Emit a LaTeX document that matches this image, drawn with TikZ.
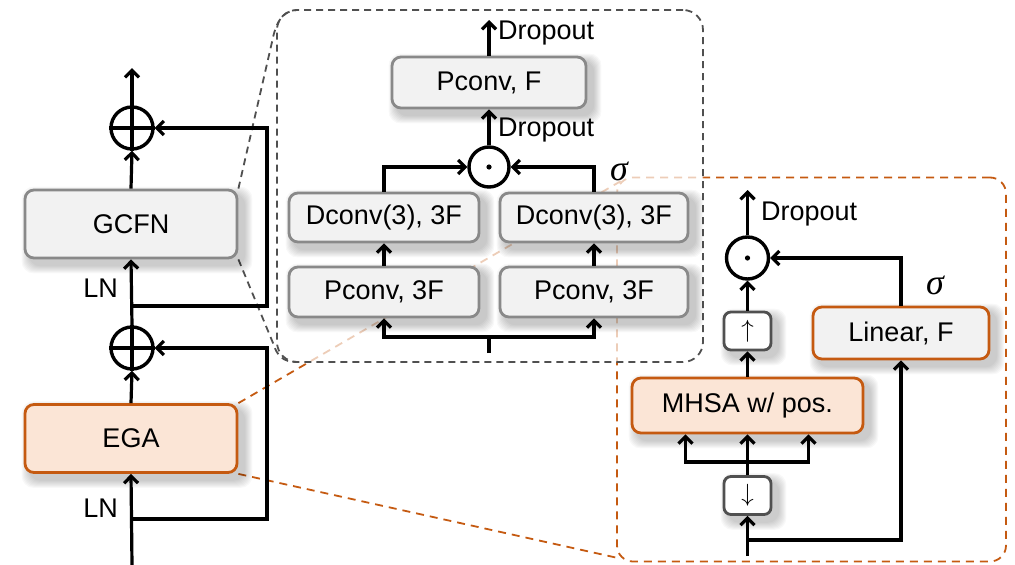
\documentclass[tikz,border=0pt]{standalone}
\usepackage{fontspec}
\setmainfont{Liberation Sans}
\newfontfamily\greekit{Liberation Serif}
\usetikzlibrary{arrows.meta,calc}
\definecolor{ora}{RGB}{197,90,17}
\definecolor{orafill}{RGB}{251,229,214}
\definecolor{gfill}{RGB}{242,242,242}
\definecolor{gline}{RGB}{137,137,137}
\definecolor{dline}{RGB}{80,80,80}
\pgfdeclarelayer{frames}
\pgfdeclarelayer{shade}
\pgfsetlayers{frames,shade,main}
% soft shadow below and to the right of a named box
\newcommand\boxshade[1]{%
  \begin{pgfonlayer}{shade}
    \foreach \i in {1,...,8}{%
      \fill[black,fill opacity=0.028,rounded corners=12pt]
        ($(#1.north west)+(6-\i,6-\i)$) rectangle ($(#1.south east)+(6+\i,6+\i)$);}
  \end{pgfonlayer}}
\begin{document}
\begin{tikzpicture}[x=1pt,y=-1pt,
  font=\fontsize{27}{32}\selectfont,
  wire/.style={line width=3.2pt,draw=black},
  arr/.style={wire,-{Straight Barb[length=7pt,width=14pt]}},
  gbox/.style={draw=gline,fill=gfill,line width=2.8pt,rounded corners=9pt,inner sep=0pt},
  obox/.style={draw=ora,fill=orafill,line width=2.8pt,rounded corners=9pt,inner sep=0pt},
  olbox/.style={draw=ora,fill=gfill,line width=2.8pt,rounded corners=9pt,inner sep=0pt},
  sbox/.style={draw=dline,fill=white,line width=2.8pt,rounded corners=7pt,inner sep=0pt,
    minimum width=47pt,minimum height=38pt,font=\fontsize{27}{30}\selectfont},
  op/.style={circle,draw=black,line width=3.4pt,minimum size=42pt,inner sep=0pt,fill=white},
  gdash/.style={draw=dline,line width=1.8pt,dash pattern=on 7pt off 5pt},
  odash/.style={draw=ora,line width=1.8pt,dash pattern=on 8pt off 6pt},
  lbl/.style={inner sep=0pt},
  sig/.style={inner sep=0pt,font=\fontsize{36}{40}\greekit\itshape},
]
\useasboundingbox (0,0) rectangle (1015,565);

% ---------- left column: boxes ----------
\node[obox,minimum width=212pt,minimum height=68pt] (ega) at (131,438.5) {EGA};
\node[gbox,minimum width=212pt,minimum height=68pt] (gcfn) at (131,224) {GCFN};

% ---------- detail frames ----------
\begin{pgfonlayer}{frames}
  \node[odash,rounded corners=16pt,minimum width=389pt,minimum height=384pt,inner sep=0pt] (zoomE) at (811.5,369.5) {};
  \draw[odash] (ega.north east) -- (621,181);
  \draw[odash] (ega.south east) -- (618,558);
  \node[gdash,fill=white,fill opacity=0.7,rounded corners=20pt,minimum width=426pt,minimum height=352pt,inner sep=0pt] (zoomG) at (490,186) {};
  \draw[gdash] (gcfn.north east) -- (272,42) .. controls (276,22) and (282,11) .. (297,10);
  \draw[gdash] (gcfn.south east) -- (273,343) .. controls (277,356) and (283,362) .. (297,362);
\end{pgfonlayer}

% ---------- left column: operators and wires ----------
\node[op] (addL) at (132,348) {};
\node[op] (addU) at (132,128) {};
\draw[line width=3.4pt] (addL.north) -- (addL.south) (addL.west) -- (addL.east);
\draw[line width=3.4pt] (addU.north) -- (addU.south) (addU.west) -- (addU.east);

\coordinate (inL) at (132,565);
\coordinate (s1) at (132,519);
\coordinate (k1) at (267,348);
\coordinate (s2) at (132,306);
\coordinate (k2) at (267,128);
\coordinate (outL) at (132,68);

\draw[arr] (inL) -- (ega.south);
\draw[arr] (s1) -| (k1) -- (addL.east);
\draw[arr] (ega.north) -- (addL.south);
\draw[arr] (addL.north) -- (gcfn.south);
\draw[arr] (s2) -| (k2) -- (addU.east);
\draw[arr] (gcfn.north) -- (addU.south);
\draw[arr] (addU.north) -- (outL);
\node[lbl,anchor=east] at (118,288) {LN};
\node[lbl,anchor=east] at (118,508) {LN};

% ---------- GCFN internals ----------
\node[gbox,minimum width=194pt,minimum height=51pt] (pcF) at (489,82.5) {Pconv, F};
\node[gbox,minimum width=190pt,minimum height=49pt] (dcL) at (384,217.5) {Dconv(3), 3F};
\node[gbox,minimum width=188pt,minimum height=49pt] (dcR) at (594,217.5) {Dconv(3), 3F};
\node[gbox,minimum width=190pt,minimum height=50pt] (pcL) at (384,292) {Pconv, 3F};
\node[gbox,minimum width=188pt,minimum height=50pt] (pcR) at (594,292) {Pconv, 3F};
\node[op,minimum size=40pt] (mulG) at (489,167) {};
\fill (mulG) circle (2.6);

\coordinate (inG) at (489,353);
\coordinate (sG) at (489,337);
\coordinate (outG) at (489,20);
\draw[wire] (inG) -- (sG);
\draw[arr] (sG) -| (pcL.south);
\draw[arr] (sG) -| (pcR.south);
\draw[arr] (pcL.north) -- (dcL.south);
\draw[arr] (pcR.north) -- (dcR.south);
\draw[arr] (dcL.north) |- (mulG.west);
\draw[arr] (dcR.north) |- (mulG.east);
\draw[arr] (mulG.north) -- (pcF.south);
\draw[arr] (pcF.north) -- (outG);
\node[lbl,anchor=west] at (498,33) {Dropout};
\node[lbl,anchor=west] at (498,130) {Dropout};
\node[sig] at (619,171) {σ};

% ---------- EGA internals ----------
\node[sbox] (down) at (747.5,495.5) {$\downarrow$};
\node[obox,minimum width=231pt,minimum height=55pt] (mhsa) at (747.5,405.5) {MHSA w/ pos.};
\node[sbox] (up) at (747.5,331) {$\uparrow$};
\node[olbox,minimum width=176pt,minimum height=52pt] (lin) at (901,333) {Linear, F};
\node[op] (mulE) at (747.5,258) {};
\fill (mulE) circle (2.6);

\coordinate (inE) at (747.5,556);
\coordinate (sE) at (747.5,540);
\coordinate (sQ) at (747.5,462);
\coordinate (outE) at (747.5,190);
\draw[wire] (inE) -- (sE);
\draw[arr] (sE) -- (down.south);
\draw[arr] (sE) -| (lin.south);
\draw[wire] (down.north) -- (sQ);
\draw[arr] (sQ) -| ([xshift=-62pt]mhsa.south);
\draw[arr] (sQ) -| ([xshift=61pt]mhsa.south);
\draw[arr] (sQ) -- (mhsa.south);
\draw[arr] (mhsa.north) -- (up.south);
\draw[arr] (up.north) -- (mulE.south);
\draw[arr] (mulE.north) -- (outE);
\draw[arr] (lin.north) |- (mulE.east);
\node[lbl,anchor=west] at (761,214) {Dropout};
\node[sig] at (935,285) {σ};

% ---------- soft shadows ----------
\foreach \b in {ega,gcfn,pcF,dcL,dcR,pcL,pcR,down,up,mhsa,lin}{\boxshade{\b}}
\end{tikzpicture}
\end{document}
